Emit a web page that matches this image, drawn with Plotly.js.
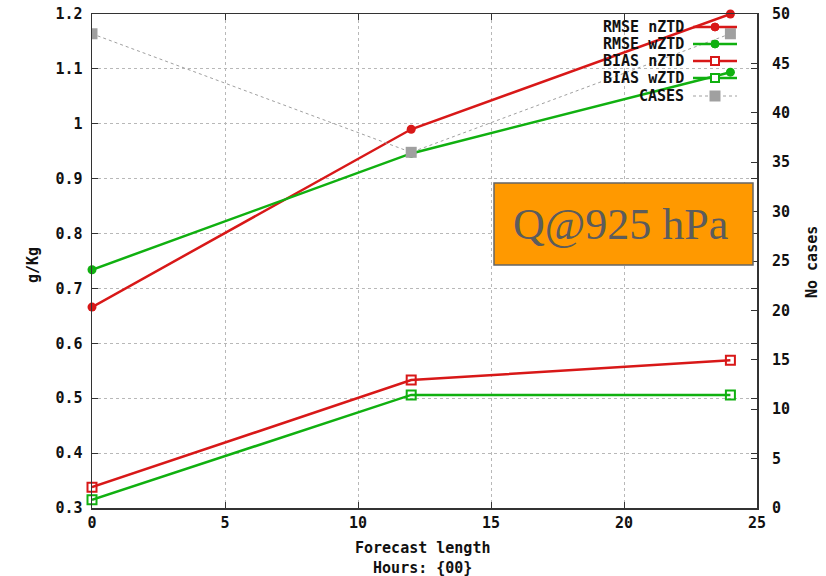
<!DOCTYPE html>
<html><head><meta charset="utf-8">
<script src="https://cdn.plot.ly/plotly-3.0.1.min.js"></script>
<style>html,body{margin:0;padding:0;background:#fff;}</style>
</head><body>
<div id="chart" style="width:826px;height:576px;"></div>
<script>
// ---- data ----
var hours = [0, 12, 24];
var rmseN = [0.666, 0.990, 1.2];
var rmseW = [0.734, 0.946, 1.094];
var biasN = [0.338, 0.533, 0.569];
var biasW = [0.315, 0.506, 0.506];
var cases = [48, 36, 48];
var seriesNames = ['RMSE nZTD', 'RMSE wZTD', 'BIAS nZTD', 'BIAS wZTD', 'CASES'];
var yTicks = [0.3, 0.4, 0.5, 0.6, 0.7, 0.8, 0.9, 1, 1.1, 1.2];
var yTickText = ['0.3', '0.4', '0.5', '0.6', '0.7', '0.8', '0.9', '1', '1.1', '1.2'];

var RED = '#d81818', GREEN = '#10b010', GREY = '#a0a0a0';
var mono = '"DejaVu Sans Mono", "Liberation Mono", monospace';
var tickFont = {family: mono, size: 15, color: '#111', weight: 'bold'};

var traces = [
  {x: hours, y: cases, yaxis: 'y2', name: seriesNames[4], mode: 'lines+markers',
   line: {color: GREY, width: 1, dash: 'dot'}, marker: {symbol: 'square', size: 11, color: GREY}},
  {x: hours, y: rmseN, name: seriesNames[0], mode: 'lines+markers', cliponaxis: false,
   line: {color: RED, width: 2.5}, marker: {symbol: 'circle', size: 9, color: RED}},
  {x: hours, y: rmseW, name: seriesNames[1], mode: 'lines+markers', cliponaxis: false,
   line: {color: GREEN, width: 2.5}, marker: {symbol: 'circle', size: 9, color: GREEN}},
  {x: hours, y: biasN, name: seriesNames[2], mode: 'lines+markers', cliponaxis: false,
   line: {color: RED, width: 2.5}, marker: {symbol: 'square-open', size: 9, color: RED, line: {width: 2}}},
  {x: hours, y: biasW, name: seriesNames[3], mode: 'lines+markers', cliponaxis: false,
   line: {color: GREEN, width: 2.5}, marker: {symbol: 'square-open', size: 9, color: GREEN, line: {width: 2}}}
];

// plot-area pixel helpers (for legend / decorations only)
var L = 92, R = 757, T = 14, B = 508;
function px(x) { return (x - L) / (R - L); }
function py(y) { return (B - y) / (B - T); }

var shapes = [
  {type: 'rect', xref: 'paper', yref: 'paper', x0: px(494), x1: px(753), y0: py(265), y1: py(183),
   fillcolor: '#ff9900', line: {color: '#666', width: 1.5}, layer: 'above'}
];
var annotations = [
  {xref: 'paper', yref: 'paper', x: px(620), y: py(224), text: 'Q@925 hPa', showarrow: false,
   font: {family: '"Liberation Serif", "Times New Roman", serif', size: 44, color: '#5c5c5c', weight: 'normal'},
   xanchor: 'center', yanchor: 'middle'},
  {xref: 'paper', yref: 'paper', x: px(33), y: py(265), text: 'g/Kg', textangle: -90, showarrow: false,
   font: tickFont, xanchor: 'center', yanchor: 'middle'},
  {xref: 'paper', yref: 'paper', x: px(812), y: py(262), text: 'No cases', textangle: -90, showarrow: false,
   font: tickFont, xanchor: 'center', yanchor: 'middle'},
  {xref: 'paper', yref: 'paper', x: px(422), y: py(558), text: 'Forecast length<br>Hours: {00}', showarrow: false,
   font: tickFont, xanchor: 'center', yanchor: 'middle', align: 'center'}
];

// custom legend (text on left, sample on right, like gnuplot)
var legRows = [27, 44, 61, 78, 96];
var legStyle = [
  {c: RED, w: 2.5, dash: 'solid', m: 'circle'},
  {c: GREEN, w: 2.5, dash: 'solid', m: 'circle'},
  {c: RED, w: 2.5, dash: 'solid', m: 'squareopen'},
  {c: GREEN, w: 2.5, dash: 'solid', m: 'squareopen'},
  {c: GREY, w: 1, dash: 'dot', m: 'square'}
];
seriesNames.forEach(function (nm, i) {
  var yy = py(legRows[i]), s = legStyle[i];
  annotations.push({xref: 'paper', yref: 'paper', x: px(686), y: yy, text: nm, showarrow: false,
    font: tickFont, xanchor: 'right', yanchor: 'middle'});
  shapes.push({type: 'line', xref: 'paper', yref: 'paper', x0: px(693), x1: px(737), y0: yy, y1: yy,
    line: {color: s.c, width: s.w, dash: s.dash}});
  var half = s.m === 'square' ? 5.5 : 4;
  var mk = {xref: 'paper', yref: 'paper', xsizemode: 'pixel', ysizemode: 'pixel',
    xanchor: px(715), yanchor: yy, x0: -half, x1: half, y0: -half, y1: half};
  if (s.m === 'circle') { mk.type = 'circle'; mk.fillcolor = s.c; mk.line = {color: s.c, width: 1}; }
  else if (s.m === 'squareopen') { mk.type = 'rect'; mk.fillcolor = '#fff'; mk.line = {color: s.c, width: 2}; }
  else { mk.type = 'rect'; mk.fillcolor = s.c; mk.line = {color: s.c, width: 0}; }
  shapes.push(mk);
});

var layout = {
  width: 826, height: 576,
  margin: {l: L, r: 826 - R, t: T, b: 576 - B, pad: 0},
  paper_bgcolor: '#fff', plot_bgcolor: '#fff',
  showlegend: false,
  font: tickFont,
  xaxis: {range: [0, 25], tickvals: [0, 5, 10, 15, 20, 25], ticks: 'inside', ticklen: 6,
    tickcolor: '#333', showline: true, linecolor: '#333', linewidth: 1.5, mirror: 'ticks',
    showgrid: true, gridcolor: '#b8b8b8', griddash: 'dot', gridwidth: 1, zeroline: false,
    tickfont: tickFont, fixedrange: true},
  yaxis: {range: [0.3, 1.2], tickvals: yTicks, ticktext: yTickText, ticks: 'inside', ticklen: 6,
    tickcolor: '#333', showline: true, linecolor: '#333', linewidth: 1.5, mirror: 'ticks',
    showgrid: true, gridcolor: '#b8b8b8', griddash: 'dot', gridwidth: 1, zeroline: false,
    tickfont: tickFont, ticklabelstandoff: 5},
  yaxis2: {range: [0, 50], overlaying: 'y', side: 'right', tickvals: [0, 5, 10, 15, 20, 25, 30, 35, 40, 45, 50],
    ticks: 'inside', ticklen: 6, tickcolor: '#333', showgrid: false, zeroline: false, showline: false,
    tickfont: tickFont, ticklabelstandoff: 14},
  shapes: shapes,
  annotations: annotations
};

Plotly.newPlot('chart', traces, layout, {displayModeBar: false, staticPlot: true});
</script>
</body></html>
